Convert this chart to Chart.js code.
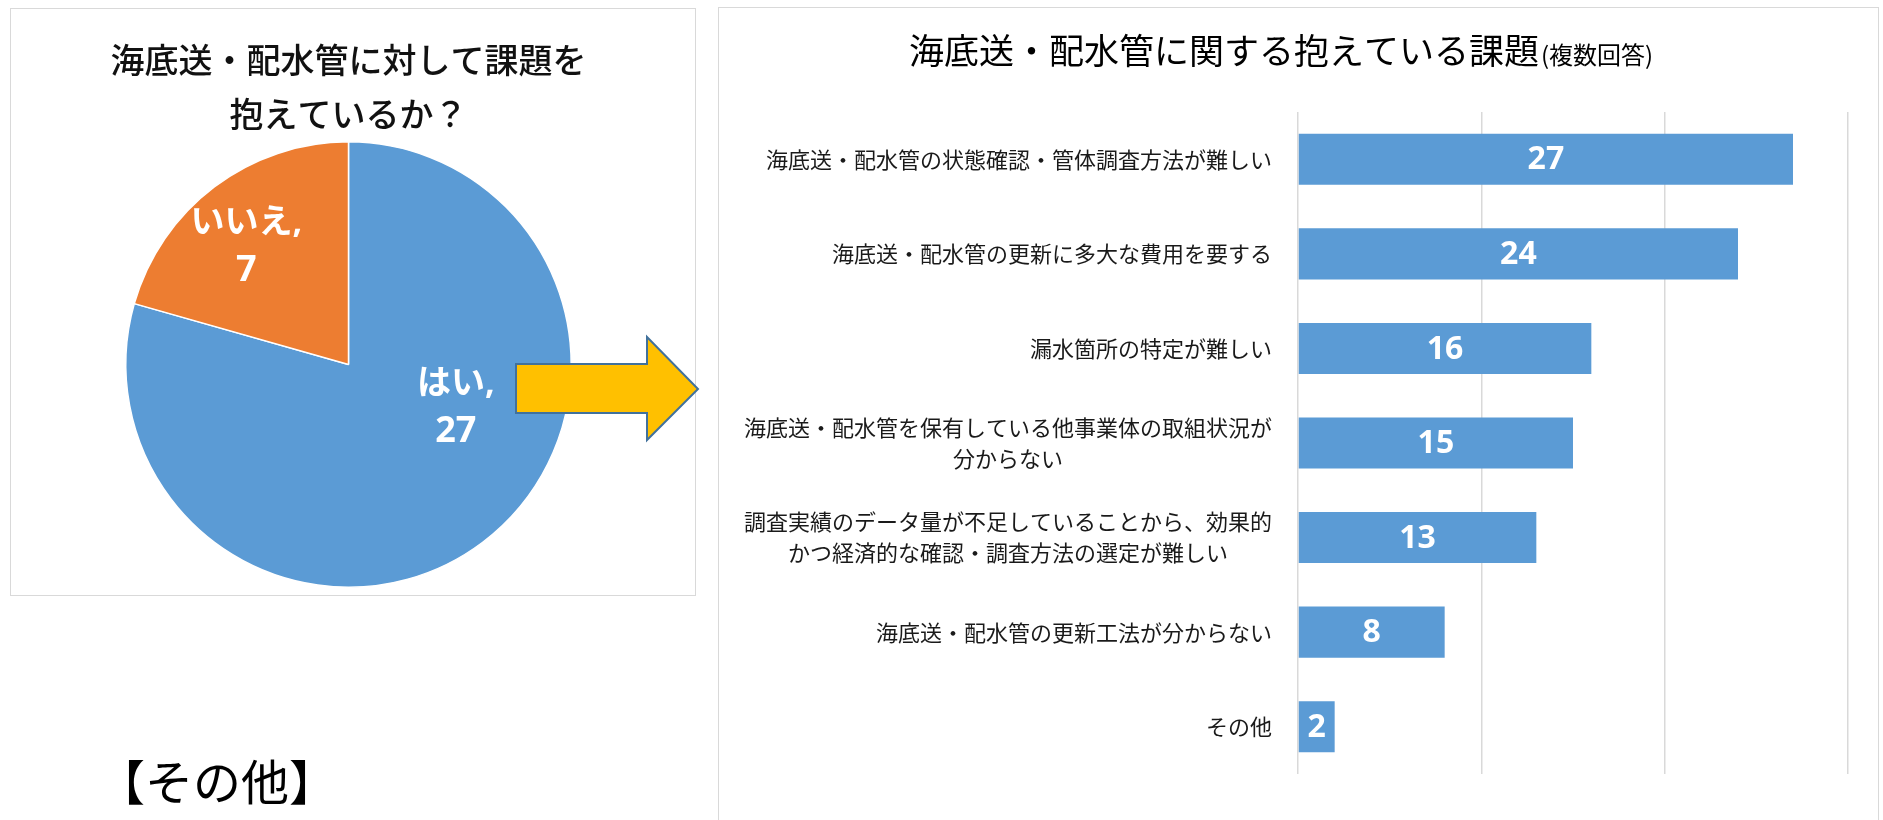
<!DOCTYPE html>
<html lang="ja">
<head>
<meta charset="utf-8">
<script src="https://cdn.jsdelivr.net/npm/chart.js@4.4.0/dist/chart.umd.min.js"></script>
<style>
  html, body { margin: 0; padding: 0; background: #fff; }
  body { width: 1883px; height: 820px; position: relative; overflow: hidden; font-family: 'Noto Sans CJK JP', sans-serif; }
  .panel { position: absolute; border: 1px solid #d9d9d9; box-sizing: border-box; }
  #pieBox { left: 10px; top: 8px; width: 686px; height: 588px; }
  #barBox { left: 718px; top: 7px; width: 1161px; height: 840px; }
  #pieChart { position: absolute; left: 10px; top: 8px; }
  #barChart { position: absolute; left: 718px; top: 7px; }
  #arrow { position: absolute; left: 0; top: 0; pointer-events: none; }
  #other { position: absolute; left: 97px; top: 755px; font-size: 48px; line-height: 48px; color: #000; }
</style>
</head>
<body>
<div class="panel" id="pieBox"></div>
<div class="panel" id="barBox"></div>
<canvas id="pieChart" width="685" height="586"></canvas>
<canvas id="barChart" width="1160" height="813"></canvas>
<svg id="arrow" width="1883" height="820">
  <polygon points="516,364 647,364 647,337 698,389 647,440 647,413 516,413"
           fill="#FFC000" stroke="#41719C" stroke-width="2" />
</svg>
<div id="other">【その他】</div>

<script>
// pie: do they have issues with submarine pipes?
const pieTitle = ['海底送・配水管に対して課題を', '抱えているか？'];
const pieLabels = ['はい', 'いいえ'];
const pieValues = [27, 7];

// bar: which issues (multiple answers)
const barTitleMain = '海底送・配水管に関する抱えている課題';
const barTitleSub = '(複数回答)';
const barLabels = [
    '海底送・配水管の状態確認・管体調査方法が難しい',
    '海底送・配水管の更新に多大な費用を要する',
    '漏水箇所の特定が難しい',
    ['海底送・配水管を保有している他事業体の取組状況が', '分からない'],
    ['調査実績のデータ量が不足していることから、効果的', 'かつ経済的な確認・調査方法の選定が難しい'],
    '海底送・配水管の更新工法が分からない',
    'その他'
];
const barValues = [27, 24, 16, 15, 13, 8, 2];
const xMin = 0, xMax = 30, xStep = 10;

const BLUE = '#5B9BD5';
const ORANGE = '#ED7D31';

// where the pie value labels sit inside each slice (fraction of angle, fraction of radius)
const pieLabelPos = [{ t: 0.392, r: 0.52 }, { t: 0.447, r: 0.70 }];

const pieValueLabels = {
    id: 'pieValueLabels',
    afterDatasetsDraw(chart) {
        const ctx = chart.ctx;
        const meta = chart.getDatasetMeta(0);
        ctx.save();
        ctx.fillStyle = '#fff';
        ctx.textAlign = 'center';
        ctx.textBaseline = 'middle';
        meta.data.forEach((arc, i) => {
            const p = arc.getProps(['x', 'y', 'startAngle', 'endAngle', 'outerRadius'], true);
            const a = p.startAngle + (p.endAngle - p.startAngle) * pieLabelPos[i].t;
            const r = p.outerRadius * pieLabelPos[i].r;
            const cx = p.x + Math.cos(a) * r;
            const cy = p.y + Math.sin(a) * r;
            ctx.font = "bold 34px 'Open Sans', 'Noto Sans CJK JP'";
            ctx.fillText(pieLabels[i] + ',', cx, cy - 24);
            ctx.font = "bold 36px 'Open Sans', 'Noto Sans CJK JP'";
            ctx.fillText(String(pieValues[i]), cx, cy + 24);
        });
        ctx.restore();
    }
};

new Chart(document.getElementById('pieChart'), {
    type: 'pie',
    data: {
        labels: pieLabels,
        datasets: [{
            data: pieValues,
            backgroundColor: [BLUE, ORANGE],
            borderColor: '#fff',
            borderWidth: 1.5
        }]
    },
    options: {
        responsive: false,
        animation: false,
        layout: { padding: { left: 0, right: 8, top: 0, bottom: 6 } },
        plugins: {
            legend: { display: false },
            tooltip: { enabled: false },
            title: {
                display: true,
                text: pieTitle,
                color: '#111',
                font: { family: "'Noto Sans CJK JP'", size: 34, weight: 500, lineHeight: 1.59 },
                padding: { top: 25, bottom: 0 }
            }
        }
    },
    plugins: [pieValueLabels]
});

// title with a smaller "(複数回答)" tail
const barTitle = {
    id: 'barTitle',
    afterDraw(chart) {
        const ctx = chart.ctx;
        ctx.save();
        ctx.fillStyle = '#000';
        ctx.textAlign = 'left';
        ctx.textBaseline = 'alphabetic';
        const mainFont = "35px 'Noto Sans CJK JP'";
        const subFont = "24px 'Noto Sans CJK JP'";
        ctx.font = mainFont;
        const w1 = ctx.measureText(barTitleMain).width;
        ctx.font = subFont;
        const w2 = ctx.measureText(barTitleSub).width;
        const x = 562 - (w1 + w2) / 2;
        const base = 57;
        ctx.font = mainFont;
        ctx.fillText(barTitleMain, x, base);
        ctx.font = subFont;
        ctx.fillText(barTitleSub, x + w1 + 2, base);
        ctx.restore();
    }
};

// category labels, multi-line ones centred on their widest line like Excel does
const barCategoryLabels = {
    id: 'barCategoryLabels',
    afterDraw(chart) {
        const ctx = chart.ctx;
        const yScale = chart.scales.y;
        const right = chart.chartArea.left - 26;
        ctx.save();
        ctx.font = "22px 'Noto Sans CJK JP'";
        ctx.fillStyle = '#1a1a1a';
        ctx.textAlign = 'center';
        ctx.textBaseline = 'middle';
        barLabels.forEach((lab, i) => {
            const lines = Array.isArray(lab) ? lab : [lab];
            const w = Math.max(...lines.map(l => ctx.measureText(l).width));
            const cy = yScale.getPixelForValue(i);
            lines.forEach((l, j) => {
                ctx.fillText(l, right - w / 2, cy + (j - (lines.length - 1) / 2) * 31);
            });
        });
        ctx.restore();
    }
};

const barValueLabels = {
    id: 'barValueLabels',
    afterDatasetsDraw(chart) {
        const ctx = chart.ctx;
        const meta = chart.getDatasetMeta(0);
        ctx.save();
        ctx.fillStyle = '#fff';
        ctx.textAlign = 'center';
        ctx.textBaseline = 'middle';
        ctx.font = "bold 32px 'Open Sans'";
        meta.data.forEach((bar, i) => {
            const p = bar.getProps(['x', 'y', 'base'], true);
            ctx.fillText(String(barValues[i]), (p.x + p.base) / 2, p.y + 1);
        });
        ctx.restore();
    }
};

new Chart(document.getElementById('barChart'), {
    type: 'bar',
    data: {
        labels: barLabels,
        datasets: [{
            data: barValues,
            backgroundColor: BLUE,
            categoryPercentage: 1,
            barPercentage: 0.54
        }]
    },
    options: {
        indexAxis: 'y',
        responsive: false,
        animation: false,
        layout: { padding: { left: 0, right: 30, top: 105, bottom: 46 } },
        plugins: {
            legend: { display: false },
            tooltip: { enabled: false },
            title: { display: false }
        },
        scales: {
            x: {
                min: xMin,
                max: xMax,
                ticks: { stepSize: xStep, display: false },
                grid: { color: '#d9d9d9', lineWidth: 1.5, drawTicks: false },
                border: { display: false }
            },
            y: {
                ticks: { display: false },
                grid: { display: false },
                border: { display: false },
                afterFit(scale) { scale.width = 580; }
            }
        }
    },
    plugins: [barTitle, barCategoryLabels, barValueLabels]
});
</script>
</body>
</html>
